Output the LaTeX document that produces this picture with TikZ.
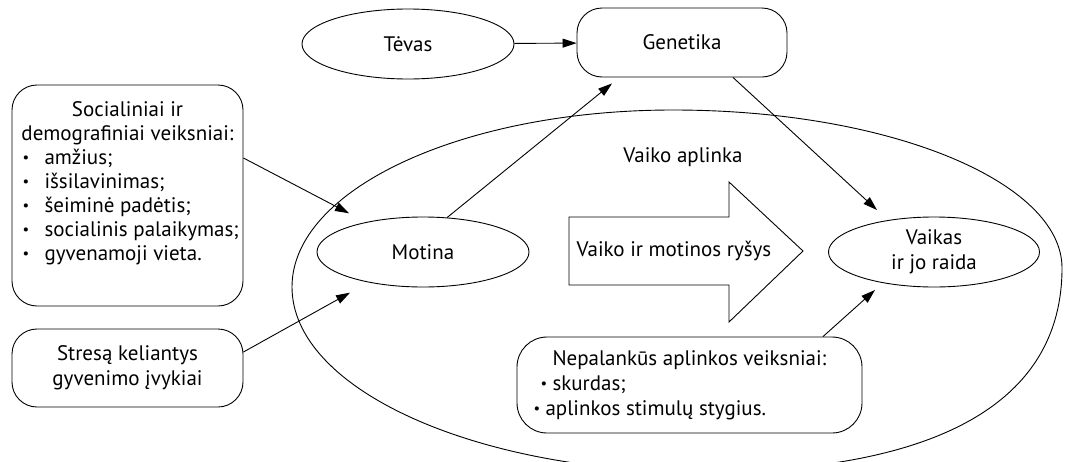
\documentclass[tikz,border=0pt]{standalone}
\usepackage{fontspec}
\usepackage{graphicx}
\setmainfont{PT Sans}
\usetikzlibrary{arrows.meta,shapes.geometric}
\newcommand\mybul[1]{\makebox[#1][l]{\raisebox{0.1em}{\scalebox{0.7}{\textbullet}}}}
\begin{document}
\begin{tikzpicture}[x=1pt,y=-1pt,line width=0.9pt,
  every node/.style={font=\fontsize{21}{25}\selectfont},
  ell/.style={draw,ellipse,inner sep=0pt,minimum width=212pt,minimum height=70pt,align=center},
  rbox/.style={draw,rectangle,rounded corners=25pt,inner sep=0pt},
  arr/.style={-{Triangle[length=14pt,width=9pt]}}]
\useasboundingbox (0,0) rectangle (1070,461);
\clip (0,0) rectangle (1070,461);
% environment (big oval)
\draw (673,110) .. controls (890,110) and (1062,182) .. (1062,268)
  .. controls (1062,401) and (940,472) .. (700,472)
  .. controls (475,472) and (292,389) .. (292,287)
  .. controls (292,189) and (463,110) .. (673,110) -- cycle;
\node (env) at (683,157) {Vaiko aplinka};
% nodes
\node[ell] (tev) at (408,44) {Tėvas};
\node[rbox,minimum width=210pt,minimum height=69pt] (gen) at (682,42.5) {Genetika};
\node[rbox,minimum width=231pt,minimum height=221pt] (soc) at (127.5,195.5) {%
  \begin{minipage}[c][187pt][t]{226pt}\fontsize{21}{24}\selectfont
  \centering Socialiniai ir\\demografiniai veiksniai:\par\raggedright
  \hspace*{8pt}\mybul{22pt}amžius;\\
  \hspace*{8pt}\mybul{22pt}išsilavinimas;\\
  \hspace*{8pt}\mybul{22pt}šeiminė padėtis;\\
  \hspace*{8pt}\mybul{22pt}socialinis palaikymas;\\
  \hspace*{8pt}\mybul{22pt}gyvenamoji vieta.
  \end{minipage}};
\node[rbox,minimum width=231pt,minimum height=78pt,align=center] (str) at (127.5,368) {Stresą keliantys\\gyvenimo įvykiai};
\node[ell] (mot) at (423,252) {Motina};
\node[ell,minimum width=211pt] (vai) at (934,252) {Vaikas\\ir jo raida};
\node[rbox,rounded corners=30pt,minimum width=345pt,minimum height=96pt] (nep) at (689.5,385) {%
  \begin{minipage}{330pt}\raggedright
  \hspace*{28pt}Nepalankūs aplinkos veiksniai:\\
  \hspace*{16pt}\mybul{12pt}skurdas;\\
  \hspace*{9pt}\mybul{12pt}aplinkos stimulų stygius.
  \end{minipage}};
% big arrow
\draw (569,217) -- (729,217) -- (729,182) -- (803,251) -- (729,322) -- (729,285) -- (569,285) -- cycle;
\node (rys) at (674,251) {Vaiko ir motinos ryšys};
% connectors
\draw[arr] (tev) -- (gen);
\draw[arr,shorten >=19pt] ([yshift=37.5pt]soc.east) -- (mot);
\draw[arr,shorten >=21pt] ([yshift=16pt]str.east) -- (mot);
\draw[arr] (mot.55) -- ([xshift=-70pt,yshift=-6pt]gen.south);
\draw[arr] ([xshift=51pt]gen.south) -- ([xshift=-57pt,yshift=42pt]vai.center);
\draw[arr] ([xshift=133.5pt]nep.north) -- ([xshift=-59pt,yshift=-38pt]vai.center);
\end{tikzpicture}
\end{document}
